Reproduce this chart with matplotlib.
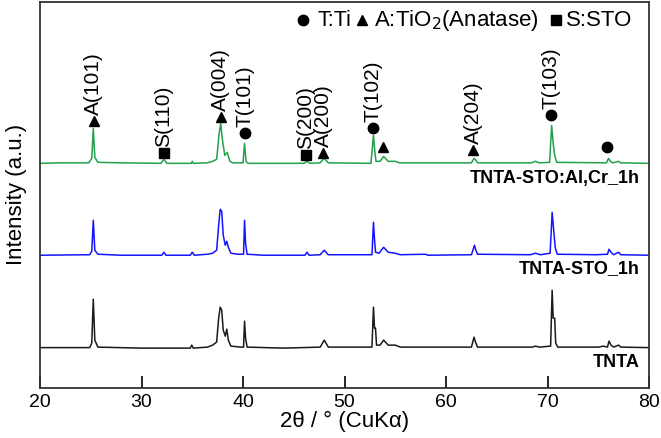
import matplotlib
matplotlib.use("Agg")
import matplotlib.pyplot as plt

plt.rcParams['font.family'] = ['Liberation Sans', 'DejaVu Sans']

# XRD traces (2theta, counts above each baseline)
x_alcr = [20.0, 22.0, 24.8, 25.1, 25.25, 25.4, 25.7, 28.0, 31.9, 32.2, 32.5, 34.9, 35.0, 35.1,
          36.5, 37.0, 37.4, 37.65, 37.8, 37.95, 38.2, 38.45, 38.7, 39.0, 40.0, 40.15, 40.3, 40.5,
          44.0, 46.0, 46.3, 46.6, 47.6, 48.0, 48.4, 52.6, 52.85, 53.0, 53.1, 53.5, 53.85, 54.3,
          55.0, 55.4, 58.0, 62.5, 62.75, 62.95, 63.1, 68.4, 68.8, 69.2, 70.2, 70.4, 70.55, 70.7,
          70.9, 75.8, 76.0, 76.2, 76.4, 77.0, 77.2, 80.0]
y_alcr = [0, 0.5, 0.5, 5, 35, 6, 1, 0.5, 0, 4, 0, 0, 2, 0,
          0.5, 2, 4, 30, 40, 25, 8, 11, 2, 0.5, 0.5, 20, 2, 0,
          0, 0, 2, 0, 0.5, 5, 0.5, 0, 28, 10, 2, 2, 7, 2,
          2, 0.5, 0.5, 0.5, 5, 3, 0.5, 0.5, 2, 0.5, 1, 38, 20, 8,
          1, 0.5, 5, 2, 0.5, 2, 0.5, 0]

x_sto = [20.0, 24.9, 25.1, 25.25, 25.4, 25.7, 28.0, 32.0, 32.2, 32.4, 34.8, 35.0, 35.2, 36.5,
         37.0, 37.4, 37.6, 37.75, 37.9, 38.05, 38.25, 38.4, 38.55, 38.8, 39.5, 40.05, 40.15, 40.25,
         40.4, 42.0, 46.1, 46.3, 46.5, 47.6, 48.0, 48.4, 52.7, 52.85, 52.95, 53.05, 53.4, 53.85,
         54.3, 55.0, 55.5, 58.0, 58.2, 62.5, 62.8, 62.9, 63.1, 68.3, 68.8, 69.3, 70.25, 70.45,
         70.6, 70.75, 70.95, 74.8, 75.9, 76.05, 76.25, 76.5, 77.0, 77.2, 80.0]
y_sto = [0, 0.5, 4, 35, 5, 1, 0, 0, 3, 0, 0, 3, 0, 1,
         2, 5, 30, 46, 44, 20, 10, 14, 8, 2, 1, 1, 35, 12,
         1, 0, 0, 3, 0, 0.5, 5, 0.5, 0.5, 33, 16, 3, 2, 8,
         3, 2, 0.5, 1, 0, 0.5, 10, 6, 1, 0.5, 2, 0.5, 2, 43,
         25, 8, 1, 0.5, 1, 6, 3, 0.5, 3, 0.5, 0]

x_tnta = [20.0, 24.9, 25.1, 25.25, 25.4, 25.7, 30.0, 34.8, 34.95, 35.1, 36.5, 37.0, 37.4, 37.6,
          37.75, 37.9, 38.05, 38.25, 38.4, 38.55, 38.8, 39.8, 40.05, 40.15, 40.25, 40.4, 44.0, 47.6,
          48.0, 48.4, 52.7, 52.85, 52.95, 53.05, 53.15, 53.5, 53.85, 54.3, 55.0, 55.5, 62.5, 62.75,
          62.9, 63.1, 68.5, 68.8, 69.2, 70.3, 70.45, 70.55, 70.7, 70.8, 71.0, 75.0, 75.5, 75.9,
          76.05, 76.25, 76.5, 77.0, 77.2, 80.0]
y_tnta = [0.5, 0.5, 5, 49, 8, 1, 0, 0, 3, 0, 1, 3, 6, 30,
          41, 38, 18, 12, 19, 8, 2, 1, 1, 27, 10, 1, 0, 1,
          8, 1, 1, 41, 20, 20, 3, 3, 8, 3, 3, 1, 1, 11,
          6, 1, 1, 2, 1, 2, 58, 30, 30, 5, 1, 1, 2, 1,
          7, 3, 1, 3, 1, 0.5]

trace_names = ['TNTA-STO:Al,Cr_1h', 'TNTA-STO_1h', 'TNTA']
trace_offsets = [225, 133, 40]
trace_colors = ['#22a04b', '#1414ff', '#1a1a1a']

# peak markers on the top trace: (2theta, height, symbol, label)
mark_x = [25.3, 32.2, 37.8, 40.2, 46.2, 47.9, 52.8, 53.8, 62.7, 70.3, 75.9]
mark_y = [267, 235, 271, 255, 233, 235, 260, 241, 238, 273, 241]
mark_sym = ['^', 's', '^', 'o', 's', '^', 'o', '^', '^', 'o', 'o']
mark_text = ['A(101)', 'S(110)', 'A(004)', 'T(101)', 'S(200)', 'A(200)', 'T(102)', '',
             'A(204)', 'T(103)', '']

fig = plt.figure(figsize=(6.61, 4.38), dpi=100)
ax = fig.add_axes([0.0605, 0.114, 0.9215, 0.8825])

traces = [(x_alcr, y_alcr), (x_sto, y_sto), (x_tnta, y_tnta)]
for (xs, ys), off, c in zip(traces, trace_offsets, trace_colors):
    ax.plot(xs, [v + off for v in ys], color=c, lw=1.1)

msize = {'^': 7.5, 's': 6.5, 'o': 7.5}
for x, y, m, t in zip(mark_x, mark_y, mark_sym, mark_text):
    ax.plot(x, y, marker=m, ms=msize[m], color='black', ls='none')
    if t:
        ax.text(x, y + 6, t, rotation=90, ha='center', va='bottom', fontsize=15)

# legend line at the top
ax.plot(0.432, 0.952, 'o', ms=7.5, color='black', transform=ax.transAxes, clip_on=False)
ax.text(0.455, 0.952, 'T:Ti', transform=ax.transAxes, ha='left', va='center', fontsize=15.5)
ax.plot(0.529, 0.952, '^', ms=7.5, color='black', transform=ax.transAxes, clip_on=False)
ax.text(0.549, 0.952, 'A:TiO$_2$(Anatase)', transform=ax.transAxes, ha='left', va='center',
        fontsize=16)
ax.plot(0.847, 0.952, 's', ms=7, color='black', transform=ax.transAxes, clip_on=False)
ax.text(0.864, 0.952, 'S:STO', transform=ax.transAxes, ha='left', va='center', fontsize=16)

for name, yy in zip(trace_names, [0.541, 0.308, 0.065]):
    ax.text(0.985, yy, name, transform=ax.transAxes, ha='right', va='center',
            fontsize=13, fontweight='bold')

ax.set_xlim(20, 80)
ax.set_ylim(0, 387)
ax.set_xticks([20, 30, 40, 50, 60, 70, 80])
ax.set_yticks([])
ax.tick_params(axis='x', direction='in', length=9, width=1.2, labelsize=14, pad=4)
for s in ax.spines.values():
    s.set_linewidth(1.3)
    s.set_color('#333333')
ax.set_xlabel('2θ / ° (CuKα)', fontsize=16, labelpad=0)
ax.set_ylabel('Intensity (a.u.)', fontsize=16, labelpad=9)

fig.savefig('out.png', dpi=100)
